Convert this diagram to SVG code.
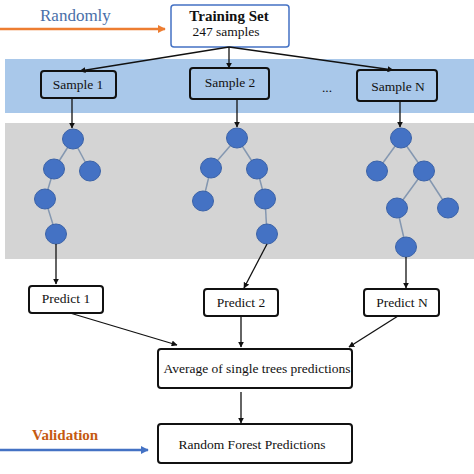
<svg xmlns="http://www.w3.org/2000/svg" width="474" height="474" viewBox="0 0 474 474" font-family="'Liberation Serif','Times New Roman',serif">
<defs>
<marker id="ah" viewBox="0 0 10 10" refX="9" refY="5" markerWidth="6" markerHeight="6" markerUnits="userSpaceOnUse" orient="auto"><path d="M0,0 L10,5 L0,10 z" fill="#111"/></marker>
<marker id="aho" viewBox="0 0 10 10" refX="9" refY="5" markerWidth="8" markerHeight="8" markerUnits="userSpaceOnUse" orient="auto"><path d="M0,0 L10,5 L0,10 z" fill="#ed7d31"/></marker>
<marker id="ahb" viewBox="0 0 10 10" refX="9" refY="5" markerWidth="8" markerHeight="8" markerUnits="userSpaceOnUse" orient="auto"><path d="M0,0 L10,5 L0,10 z" fill="#4472c4"/></marker>
</defs>
<style>
text{font-family:"Liberation Serif","Times New Roman",serif;fill:#111}
.box{fill:#fff;stroke:#111;stroke-width:2}
.sbox{fill:#a9c8ea;stroke:#111;stroke-width:2}
.t13{font-size:13.5px;text-anchor:middle}
.con{stroke:#111;stroke-width:1.3;fill:none;marker-end:url(#ah)}
.edge{stroke:#8497b0;stroke-width:1.5}
.nd{fill:#4472c4;stroke:#3a62a8;stroke-width:1}
</style>
<rect width="474" height="474" fill="#fff"/>
<rect x="5" y="59" width="469" height="54" fill="#a9c8ea"/>
<rect x="5" y="123" width="469" height="136" fill="#d4d4d4"/>

<g id="randomly">
<text x="40" y="21" style="font-size:17px;fill:#4a6fa8">Randomly</text>
<line x1="0" y1="29" x2="165" y2="29" stroke="#ed7d31" stroke-width="2.5" marker-end="url(#aho)"/>
</g>
<g id="training-set">
<rect x="171" y="5" width="118" height="42" rx="3" fill="#fff" stroke="#4472c4" stroke-width="1.5"/>
<text x="229" y="21" style="font-size:15px;font-weight:bold;text-anchor:middle">Training Set</text>
<text x="226" y="36" class="t13">247 samples</text>
</g>
<g id="sample-1"><rect x="41" y="71" width="75" height="27" rx="3" class="sbox"/><text x="78" y="89" class="t13">Sample 1</text></g>
<g id="sample-2"><rect x="190" y="68" width="79" height="31" rx="3" class="sbox"/><text x="230" y="87" class="t13">Sample 2</text></g>
<g id="dots"><text x="327" y="92" class="t13">...</text></g>
<g id="sample-n"><rect x="357" y="70" width="80" height="31" rx="3" class="sbox"/><text x="398" y="91" class="t13">Sample N</text></g>

<g id="tree-1">
<line class="edge" x1="73" y1="139" x2="54" y2="169"/>
<line class="edge" x1="73" y1="139" x2="90" y2="171"/>
<line class="edge" x1="54" y1="169" x2="45" y2="199"/>
<line class="edge" x1="45" y1="199" x2="56" y2="234"/>
<ellipse class="nd" cx="73" cy="139" rx="10.5" ry="10"/>
<ellipse class="nd" cx="54" cy="169" rx="10.5" ry="10"/>
<ellipse class="nd" cx="90" cy="171" rx="10.5" ry="10"/>
<ellipse class="nd" cx="45" cy="199" rx="10.5" ry="10"/>
<ellipse class="nd" cx="56" cy="234" rx="10.5" ry="10"/>
</g>
<g id="tree-2">
<line class="edge" x1="237" y1="138" x2="211" y2="168"/>
<line class="edge" x1="237" y1="138" x2="257" y2="169"/>
<line class="edge" x1="211" y1="168" x2="203" y2="201"/>
<line class="edge" x1="257" y1="169" x2="265" y2="199"/>
<line class="edge" x1="265" y1="199" x2="267" y2="234"/>
<ellipse class="nd" cx="237" cy="138" rx="10.5" ry="10"/>
<ellipse class="nd" cx="211" cy="168" rx="10.5" ry="10"/>
<ellipse class="nd" cx="257" cy="169" rx="10.5" ry="10"/>
<ellipse class="nd" cx="203" cy="201" rx="10.5" ry="10"/>
<ellipse class="nd" cx="265" cy="199" rx="10.5" ry="10"/>
<ellipse class="nd" cx="267" cy="234" rx="10.5" ry="10"/>
</g>
<g id="tree-n">
<line class="edge" x1="401" y1="138" x2="377" y2="171"/>
<line class="edge" x1="401" y1="138" x2="424" y2="171"/>
<line class="edge" x1="424" y1="171" x2="397" y2="208"/>
<line class="edge" x1="424" y1="171" x2="448" y2="208"/>
<line class="edge" x1="397" y1="208" x2="406" y2="247"/>
<ellipse class="nd" cx="401" cy="138" rx="10.5" ry="10"/>
<ellipse class="nd" cx="377" cy="171" rx="10.5" ry="10"/>
<ellipse class="nd" cx="424" cy="171" rx="10.5" ry="10"/>
<ellipse class="nd" cx="397" cy="208" rx="10.5" ry="10"/>
<ellipse class="nd" cx="448" cy="208" rx="10.5" ry="10"/>
<ellipse class="nd" cx="406" cy="247" rx="10.5" ry="10"/>
</g>

<g id="predict-1"><rect x="29" y="286" width="74" height="27" rx="3" class="box"/><text x="66" y="303" class="t13">Predict 1</text></g>
<g id="predict-2"><rect x="204" y="289" width="74" height="27" rx="3" class="box"/><text x="241" y="307" class="t13">Predict 2</text></g>
<g id="predict-n"><rect x="364" y="289" width="75" height="27" rx="3" class="box"/><text x="402" y="307" class="t13">Predict N</text></g>
<g id="average"><rect x="158" y="349" width="194" height="39" rx="3" class="box"/><text x="257" y="373" class="t13">Average of single trees predictions</text></g>
<g id="rf-predictions"><rect x="158" y="424" width="194" height="39" rx="3" class="box"/><text x="252" y="449" class="t13">Random Forest Predictions</text></g>
<g id="validation">
<text x="32" y="440" style="font-size:15px;font-weight:bold;fill:#c55a11">Validation</text>
<line x1="0" y1="450" x2="148" y2="450" stroke="#4472c4" stroke-width="2.5" marker-end="url(#ahb)"/>
</g>

<g id="connectors">
<line class="con" x1="229" y1="47" x2="80" y2="71"/>
<line class="con" x1="229" y1="47" x2="229" y2="68"/>
<line class="con" x1="229" y1="47" x2="393" y2="70"/>
<line class="con" x1="72" y1="98" x2="72" y2="128"/>
<line class="con" x1="237" y1="99" x2="237" y2="127"/>
<line class="con" x1="400" y1="101" x2="400" y2="127"/>
<line class="con" x1="56" y1="244" x2="56" y2="284"/>
<line class="con" x1="267" y1="244" x2="244" y2="288"/>
<line class="con" x1="406" y1="257" x2="406" y2="288"/>
<line class="con" x1="70" y1="313" x2="177" y2="345"/>
<line class="con" x1="241" y1="316" x2="241" y2="347"/>
<line class="con" x1="398" y1="316" x2="349" y2="347"/>
<line class="con" x1="241" y1="392" x2="241" y2="423"/>
</g>
</svg>
